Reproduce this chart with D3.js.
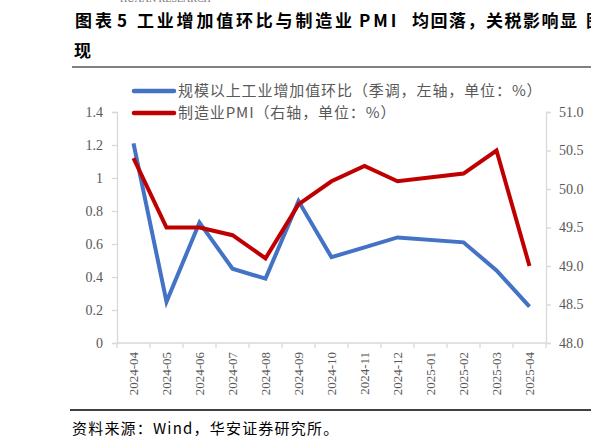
<!DOCTYPE html>
<html><head><meta charset="utf-8">
<script src="https://cdn.jsdelivr.net/npm/d3@7"></script>
<style>
html,body{margin:0;padding:0;background:#fff;overflow:hidden}
svg{display:block}
</style></head>
<body>
<svg id="c" width="591" height="446"></svg>
<script>
const months = ["2024-04","2024-05","2024-06","2024-07","2024-08","2024-09","2024-10","2024-11","2024-12","2025-01","2025-02","2025-03","2025-04"];
const ivaMoM = [1.21,0.25,0.73,0.45,0.39,0.86,0.52,0.58,0.64,null,0.61,0.44,0.22];
const pmi = [50.4,49.5,49.5,49.4,49.1,49.8,50.1,50.3,50.1,null,50.2,50.5,49.0];
const leftTicks = [0,0.2,0.4,0.6,0.8,1,1.2,1.4];
const rightTicks = [48.0,48.5,49.0,49.5,50.0,50.5,51.0];
const seriesNames = ["规模以上工业增加值环比（季调，左轴，单位：%）","制造业PMI（右轴，单位：%）"];
const titleParts = [["图表",75,3],["5",117,0],["工业增加值环比与制造业",137,2.8],["PMI",359,3],["均回落，关税影响显",412,1.5],["图",586,0]];
const titleLine2 = "现";
const sourceText = "资料来源：Wind，华安证券研究所。";

const svg = d3.select("#c");
const cjk = "'Noto Sans CJK SC','Noto Sans CJK JP',sans-serif";
const serif = "'Liberation Serif','DejaVu Serif',serif";

// header
svg.append("text").attr("x",120).attr("y",2).attr("font-family",serif).attr("font-size",10)
  .attr("fill","#777").text("HUAAN RESEARCH");
titleParts.forEach(([t,px,ls])=>{
  svg.append("text").attr("x",px).attr("y",27).attr("font-family",cjk).attr("font-size",17)
    .attr("font-weight","bold").attr("letter-spacing",ls).attr("fill","#000").text(t);
});
svg.append("text").attr("x",74).attr("y",57).attr("font-family",cjk).attr("font-size",17)
  .attr("font-weight","bold").attr("fill","#000").text(titleLine2);
svg.append("line").attr("x1",72).attr("x2",591).attr("y1",67).attr("y2",67)
  .attr("stroke","#808080").attr("stroke-width",2);

// scales
const x = d3.scaleBand().domain(months).range([117,546]);
const yL = d3.scaleLinear().domain([0,1.4]).range([343,112]);
const yR = d3.scaleLinear().domain([48,51]).range([343,112]);

const axisColor = "#d9d9d9", labelColor = "#595959";

// left axis
const gL = svg.append("g").attr("transform","translate(117,0)")
  .call(d3.axisLeft(yL).tickValues(leftTicks).tickSize(5).tickPadding(9).tickFormat(d3.format("")));
// right axis
const gR = svg.append("g").attr("transform","translate(546,0)")
  .call(d3.axisRight(yR).tickValues(rightTicks).tickSize(5).tickPadding(8).tickFormat(d3.format(".1f")));
// x axis
const gX = svg.append("g").attr("transform","translate(0,343)")
  .call(d3.axisBottom(x).tickSize(0).tickPadding(0));
[gL,gR,gX].forEach(g=>{
  g.select(".domain").attr("stroke",axisColor).attr("stroke-width",1.3);
  g.selectAll(".tick line").attr("stroke",axisColor).attr("stroke-width",1.3);
  g.selectAll("text").attr("font-family",serif).attr("font-size",14).attr("fill",labelColor);
});
gX.select(".domain").attr("d","M117,0H546");
// x ticks at band boundaries
const bounds = months.map(m=>x(m)).concat([x(months[months.length-1])+x.bandwidth()]);
gX.selectAll(".bt").data(bounds).enter().append("line").attr("class","bt")
  .attr("x1",d=>d).attr("x2",d=>d).attr("y1",0).attr("y2",5).attr("stroke",axisColor).attr("stroke-width",1.3);
gX.selectAll(".tick text").attr("font-size",13)
  .attr("transform","rotate(-90)").attr("text-anchor","end").attr("dx","-9").attr("dy","0.35em").attr("y",0).attr("x",0);

// lines
const cx = m => x(m)+x.bandwidth()/2;
const blueData = months.map((m,i)=>({m,v:ivaMoM[i]})).filter(d=>d.v!=null);
const redData = months.map((m,i)=>({m,v:pmi[i]})).filter(d=>d.v!=null);
svg.append("path").datum(blueData).attr("fill","none").attr("stroke","#4472C4").attr("stroke-width",4)
  .attr("stroke-linejoin","miter").attr("d",d3.line().x(d=>cx(d.m)).y(d=>yL(d.v)));
svg.append("path").datum(redData).attr("fill","none").attr("stroke","#C00000").attr("stroke-width",4)
  .attr("stroke-linejoin","miter").attr("d",d3.line().x(d=>cx(d.m)).y(d=>yR(d.v)));

// legend
const colors = ["#4472C4","#C00000"];
seriesNames.forEach((n,i)=>{
  const y = 91 + i*22;
  svg.append("line").attr("x1",134).attr("x2",174).attr("y1",y).attr("y2",y)
    .attr("stroke",colors[i]).attr("stroke-width",4.5).attr("stroke-linecap","round");
  svg.append("text").attr("x",178).attr("y",y+5).attr("font-family",cjk).attr("font-size",15)
    .attr("letter-spacing",0.9).attr("fill",labelColor).text(n);
});

// footer
svg.append("line").attr("x1",70).attr("x2",591).attr("y1",410).attr("y2",410)
  .attr("stroke","#404040").attr("stroke-width",2);
svg.append("text").attr("x",72).attr("y",434).attr("font-family",cjk).attr("font-size",15)
  .attr("letter-spacing",1.2).attr("fill","#000").text(sourceText);
</script>
</body></html>
